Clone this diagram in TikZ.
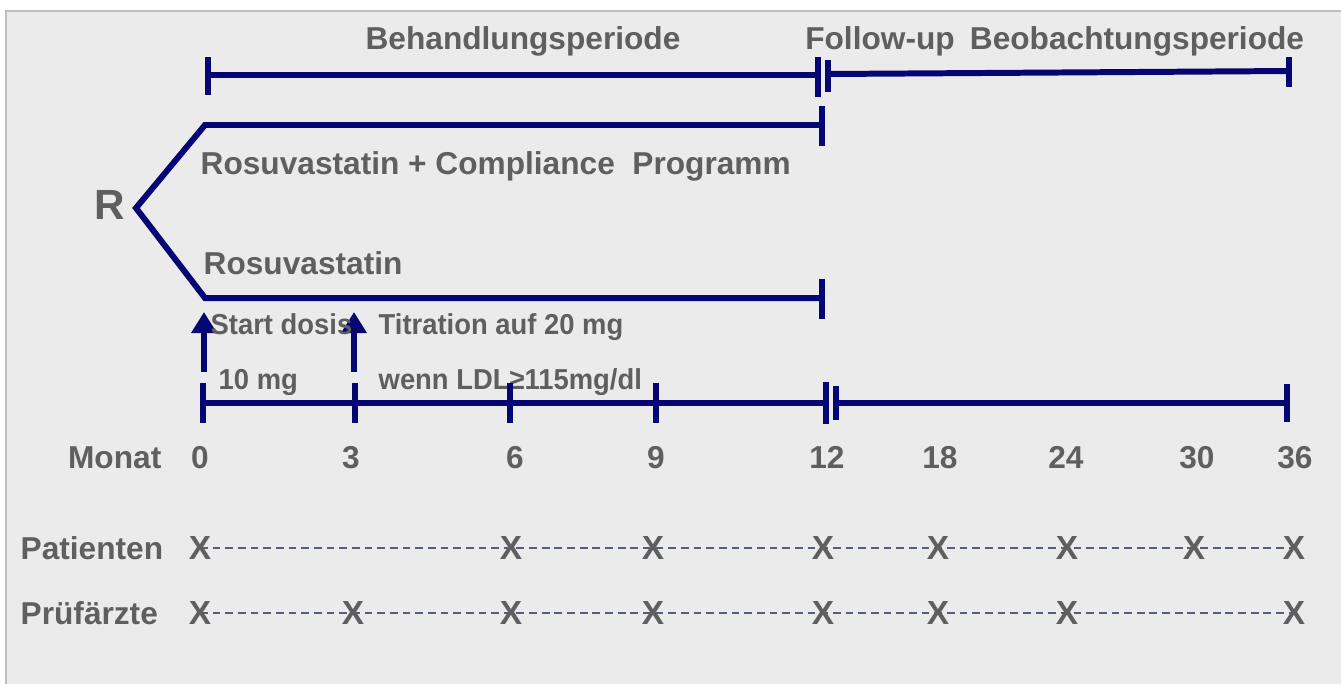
\documentclass[tikz,border=0pt]{standalone}
\usepackage{fontspec}
\setmainfont{Liberation Sans}
\usetikzlibrary{arrows.meta}
\definecolor{navy}{RGB}{5,5,115}
\definecolor{txtgray}{RGB}{95,95,95}
\definecolor{bggray}{RGB}{235,235,235}
\definecolor{dashgray}{RGB}{85,95,120}

\begin{document}
\begin{tikzpicture}[x=0.01cm,y=-0.01cm,
  lbl/.style={font=\fontsize{9}{10}\selectfont\bfseries, text=txtgray, inner sep=0pt},
  small/.style={lbl, font=\fontsize{8.2}{9}\selectfont\bfseries},
  bar/.style={draw=navy, line width=1.7pt},
  visit/.style={lbl, font=\fontsize{9.5}{10}\selectfont\bfseries},
  dose/.style={draw=navy, line width=1.7pt, -{Triangle[length=6pt,width=7pt]}},
  ruler/.style={draw=dashgray, line width=0.5pt, dash pattern=on 2.2pt off 1.4pt},
]

\useasboundingbox (0,0) rectangle (1341,684);

%--- background panel ---------------------------------------------------
\fill[bggray] (6,11) rectangle (1341,684);
\draw[black!25, line width=0.5pt] (6,684) -- (6,11) -- (1341,11);

%--- periods on top -----------------------------------------------------
\node[lbl, anchor=base] (behand) at (523,49) {Behandlungsperiode};
\node[lbl, anchor=base] (follow) at (880,49) {Follow-up};
\node[lbl, anchor=base] (beob) at (1137,49) {Beobachtungsperiode};

\coordinate (ba) at (208,75);
\coordinate (bb) at (818,75);
\coordinate (fa) at (828,74);
\coordinate (fb) at (1289,71);
\draw[bar] (ba) -- (bb);
\draw[bar] (fa) -- (fb);
\draw[bar] (ba) ++(0,-18) -- ++(0,38);
\draw[bar] (bb) ++(0,-18) -- ++(0,40);
\draw[bar] (fa) ++(0,-14) -- ++(0,32);
\draw[bar] (fb) ++(0,-14) -- ++(0,30);

%--- randomisation and the two arms -------------------------------------
\node[lbl, font=\fontsize{12}{13}\selectfont\bfseries] (rand) at (110,205) {R};
\coordinate (rnd) at (136,208);
\coordinate (armA) at (205,125);
\coordinate (armAend) at (822,125);
\coordinate (armB) at (205,298);
\coordinate (armBend) at (822,298);
\draw[bar] (armAend) -- (armA) -- (rnd) -- (armB) -- (armBend);
\draw[bar] (armAend) ++(0,-19) -- ++(0,40);
\draw[bar] (armBend) ++(0,-19) -- ++(0,40);

\node[lbl, anchor=base west] (armAtxt) at (200,174) {Rosuvastatin + Compliance \ Programm};
\node[lbl, anchor=base west] (armBtxt) at (203,274) {Rosuvastatin};

%--- dosing -------------------------------------------------------------
\coordinate (d0a) at (204,372);
\coordinate (d0b) at (204,312);
\coordinate (d3a) at (354,372);
\coordinate (d3b) at (354,312);
\draw[dose] (d0a) -- (d0b);
\draw[dose] (d3a) -- (d3b);

\node[small, anchor=base west] (start) at (210,334) {\scalebox{0.95}[1]{Start dosis}};
\node[small, anchor=base west] (startmg) at (218,389) {\scalebox{0.95}[1]{10 mg}};
\node[small, anchor=base west] (titr) at (378,334) {\scalebox{0.95}[1]{Titration auf 20 mg}};
\node[small, anchor=base west] (titrldl) at (378,389) {\scalebox{0.95}[1]{wenn LDL≥115mg/dl}};

%--- time line ----------------------------------------------------------
\coordinate (t0) at (203,403);
\coordinate (t12) at (826,403);
\coordinate (u12) at (836,403);
\coordinate (t36) at (1287,403);
\draw[bar] (t0) -- (t12);
\draw[bar] (u12) -- (t36);
\foreach \x/\h in {203/20,355/20,510/20,656/20,826/21,836/17,1287/19}{
  \draw[bar] (\x,403-\h) -- (\x,403+\h);
}

\node[lbl, anchor=base east] (monat) at (162,468) {Monat};
\foreach \m/\x in {0/200,3/351,6/515,9/656,12/827,18/940,24/1066,30/1197,36/1295}{
  \node[lbl, anchor=base] (m\m) at (\x,468) {\m};
}

%--- visits -------------------------------------------------------------
\node[lbl, anchor=base west] (pat) at (20,559) {Patienten};
\node[lbl, anchor=base west] (pruef) at (20,624) {Prüfärzte};

\coordinate (pa) at (200,548);
\coordinate (pb) at (1294,548);
\coordinate (qa) at (200,613);
\coordinate (qb) at (1294,613);
\draw[ruler] (pa) -- (pb);
\draw[ruler] (qa) -- (qb);

\foreach \x in {200,511,653,823,938,1067,1194,1294}{
  \node[visit] (p\x) at (\x,548) {X};
}
\foreach \x in {200,353,511,653,823,938,1067,1294}{
  \node[visit] (q\x) at (\x,613) {X};
}

\end{tikzpicture}
\end{document}
